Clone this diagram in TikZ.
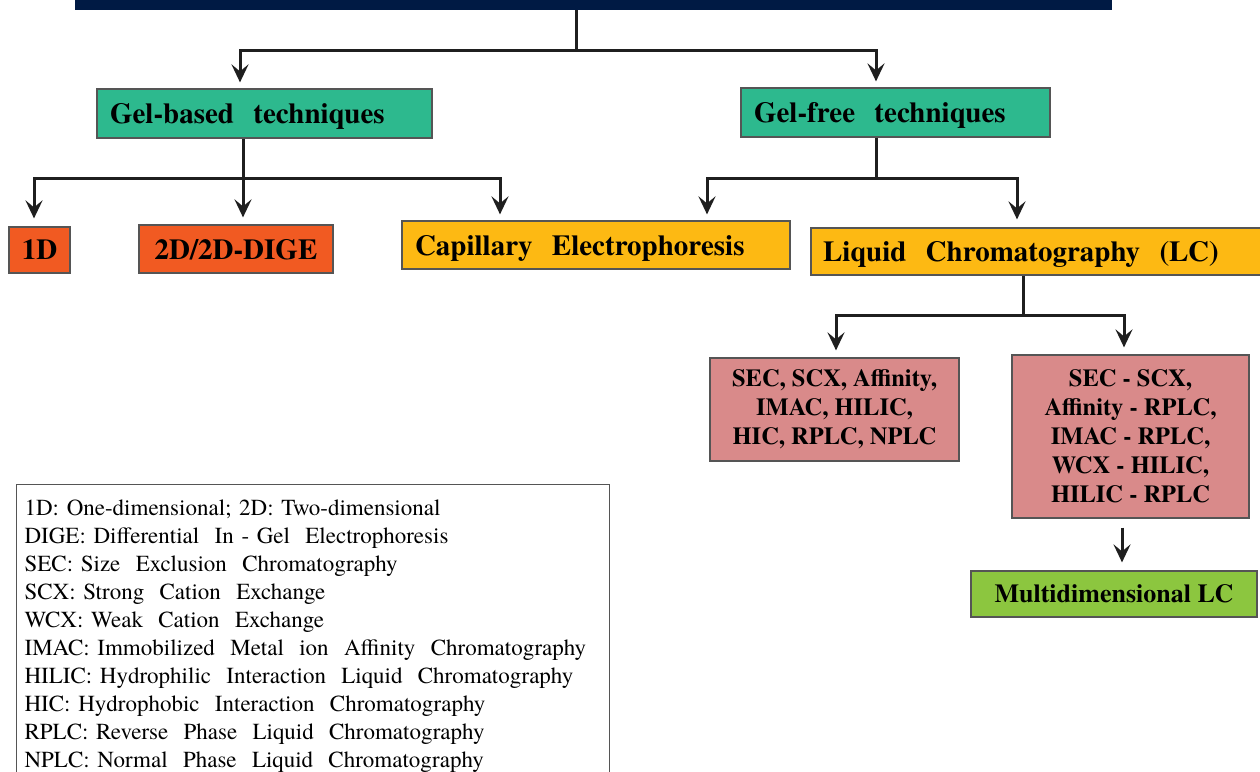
\documentclass[tikz,border=0pt]{standalone}
\usepackage{fontspec}
\setmainfont{texgyretermes}[Extension=.otf,UprightFont=*-regular,BoldFont=*-bold,ItalicFont=*-italic,BoldItalicFont=*-bolditalic]
\usetikzlibrary{arrows.meta}
\definecolor{navy}{RGB}{0,26,68}
\definecolor{gelgreen}{RGB}{45,185,142}
\definecolor{redorange}{RGB}{241,90,34}
\definecolor{amber}{RGB}{253,185,19}
\definecolor{rose}{RGB}{217,138,138}
\definecolor{lime}{RGB}{140,198,63}
\definecolor{edge}{RGB}{85,85,85}
\begin{document}
\begin{tikzpicture}[x=1pt,y=-1pt,
    frame/.style={draw=edge,line width=1.2pt,inner ysep=0pt},
    box/.style={frame,inner xsep=13pt,text depth=0pt,
      font=\fontsize{29}{33}\selectfont\bfseries},
    sepbox/.style={frame,fill=rose,align=center,inner xsep=0pt,
      font=\fontsize{24.5}{29}\selectfont\bfseries},
    link/.style={line width=3pt,draw=black!88},
    arr/.style={link,-{Stealth[length=18pt,width=17pt,inset=7pt]}}]
    \clip (0,0) rectangle (1260,771);
    \fill[white] (0,0) rectangle (1260,771);
    %% title bar (cut off at the top)
    \node[fill=navy,inner sep=0pt,minimum width=1037pt,minimum height=50pt] (title) at (593.5,-15) {};
    %% first level
    \node[box,fill=gelgreen,minimum height=49pt,text width=309pt,align=left] (gelbased) at (264.5,113.5) {Gel-based\ \ techniques};
    \node[box,fill=gelgreen,minimum height=49pt,text width=283pt,align=left] (gelfree) at (895.5,112.5) {Gel-free\ \ techniques};
    %% second level
    \node[box,fill=redorange,inner xsep=0pt,minimum width=61pt,minimum height=46pt] (oneD) at (39.5,250) {1D};
    \node[box,fill=redorange,inner xsep=0pt,minimum width=194pt,minimum height=48pt] (twoD) at (236,249) {2D/2D-DIGE};
    \node[box,fill=amber,minimum height=48pt,text width=362pt,align=left] (capillary) at (596,245) {Capillary\ \ Electrophoresis};
    \node[box,fill=amber,inner xsep=12pt,minimum height=47pt,text width=440pt,align=left] (lc) at (1043,251.5) {Liquid\ \ Chromatography\ \ (LC)};
    %% LC modes
    \node[sepbox,minimum width=249pt,minimum height=103pt] (single) at (834.5,409.5) {SEC, SCX, Affinity,\\IMAC, HILIC,\\HIC, RPLC, NPLC};
    \node[sepbox,minimum width=237pt,minimum height=163pt] (mdpair) at (1130.5,436.5) {SEC - SCX,\\Affinity - RPLC,\\IMAC - RPLC,\\WCX - HILIC,\\HILIC - RPLC};
    \node[box,fill=lime,inner xsep=0pt,minimum width=286pt,minimum height=46pt,
      font=\fontsize{26}{30}\selectfont\bfseries] (multi) at (1114,594) {Multidimensional LC};
    %% legend
    \node[frame,anchor=north west,inner xsep=8pt,inner ysep=15pt,
      text width=577pt,align=left,font=\fontsize{23}{28}\selectfont] (legend) at (16,484)
      {1D: One-dimensional; 2D: Two-dimensional\\
       DIGE: Differential\ \ In - Gel\ \ Electrophoresis\\
       SEC: Size\ \ Exclusion\ \ Chromatography\\
       SCX: Strong\ \ Cation\ \ Exchange\\
       WCX: Weak\ \ Cation\ \ Exchange\\
       IMAC: Immobilized\ \ Metal\ \ ion\ \ Affinity\ \ Chromatography\\
       HILIC: Hydrophilic\ \ Interaction\ \ Liquid\ \ Chromatography\\
       HIC: Hydrophobic\ \ Interaction\ \ Chromatography\\
       RPLC: Reverse\ \ Phase\ \ Liquid\ \ Chromatography\\
       NPLC: Normal\ \ Phase\ \ Liquid\ \ Chromatography};
    %% hubs and arrow ends
    \coordinate (hub) at (576,50);
    \coordinate (gbhub) at (243,178);
    \coordinate (gfhub) at (876,178);
    \coordinate (lchub) at (1023,315);
    \path (gelbased.north) ++(-24.5,-6) coordinate (tgb);
    \path (gelfree.north) ++(-19.5,-6) coordinate (tgf);
    \path (oneD.north) ++(-5.5,-8) coordinate (t1d);
    \path (twoD.north) ++(7,-7) coordinate (t2d);
    \path (capillary.north) ++(-96,-6) coordinate (tcapa);
    \path (capillary.north) ++(111,-6) coordinate (tcapb);
    \path (lc.north) ++(-26,-8) coordinate (tlc);
    \path (single.north) ++(1.5,-7) coordinate (tsingle);
    \path (mdpair.north) ++(-6.5,-7) coordinate (tpair);
    \path (mdpair.south) ++(-8.5,9) coordinate (mdout);
    \path (multi.north) ++(8,-8) coordinate (tmulti);
    %% connectors
    \draw[link] (title.south -| hub) -- (hub);
    \draw[arr] (hub) -| (tgb);
    \draw[arr] (hub) -| (tgf);
    \draw[link] (gelbased.south -| gbhub) -- (gbhub);
    \draw[arr] (gbhub) -| (t1d);
    \draw[arr] (gbhub) -- (t2d);
    \draw[arr] (gbhub) -| (tcapa);
    \draw[link] (gelfree.south -| gfhub) -- (gfhub);
    \draw[arr] (gfhub) -| (tcapb);
    \draw[arr] (gfhub) -| (tlc);
    \draw[link] (lc.south -| lchub) -- (lchub);
    \draw[arr] (lchub) -| (tsingle);
    \draw[arr] (lchub) -| (tpair);
    \draw[arr] (mdout) -- (tmulti);
\end{tikzpicture}
\end{document}
